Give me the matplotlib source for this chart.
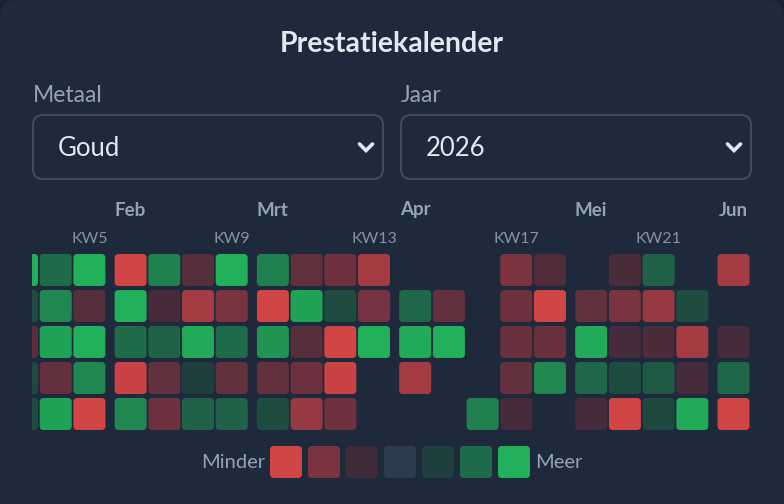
"""
Prestatiekalender - daily performance heatmap (weeks x weekdays) for gold, 2026
"""
import datetime
import matplotlib
matplotlib.use("Agg")
import matplotlib.pyplot as plt
from matplotlib.colors import LinearSegmentedColormap, Normalize
from matplotlib.patches import FancyBboxPatch

plt.rcParams['font.family'] = ['Lato', 'DejaVu Sans']

# ISO weeks visible in the scroll window, rows are Mon..Fri
year = 2026
weeks = list(range(3, 24))
weekdays = ['Ma', 'Di', 'Wo', 'Do', 'Vr']
month_names = ['Jan', 'Feb', 'Mrt', 'Apr', 'Mei', 'Jun']

# daily score per weekday, one entry per week (None = no data)
ma = [3.0, 2.0, 3.0, -3.0, 2.3, -1.4, 3.0, 2.3, -1.6, -1.8, -2.5,
      None, None, None, -2.0, -1.3, None, -1.2, 1.8, None, -2.5]
di = [1.3, 2.4, -1.4, 3.0, -1.1, -2.5, -2.0, -3.0, 2.8, 1.3, -1.9,
      1.9, -1.6, None, -1.8, -3.0, -1.6, -2.0, -2.3, 1.3, None]
wo = [-1.5, 2.8, 3.0, 2.0, 1.8, 2.9, 2.0, 2.6, -1.4, -3.0, 3.0,
      2.9, 3.0, None, -1.7, -1.7, 2.9, -1.1, -1.2, -2.5, -1.1]
do = [1.2, -1.6, 2.4, -2.9, -1.6, 1.0, -1.6, -1.6, -1.8, -2.9, None,
      -2.5, None, None, -1.6, 2.4, 1.9, 1.3, 1.6, -1.1, 1.9]
vr = [1.3, 2.8, -3.0, 2.4, -1.8, 1.8, 1.8, 1.3, -2.3, -1.8, None,
      None, None, 2.3, -1.1, None, -1.1, -3.0, 1.2, 2.9, -3.0]

# colour scale (Minder -> Meer)
legend_levels = [-3, -2, -1, 0, 1, 2, 3]
scale_colors = ['#d14545', '#7a3340', '#3f2a3a', '#2d3a4d',
                '#1e3f3d', '#1f6b4a', '#22b05a']

# selects
metal_label, metal_value = 'Metaal', 'Goud'
year_label = 'Jaar'

# --- styling -----------------------------------------------------------
BG = '#1e293b'
OUTER = '#182131'
TEXT = '#e2e8f0'
MUTED = '#94a3b8'
BORDER = '#3d4a5c'
CELL = 32
ROW_PITCH = 36
COL_PITCH = 33.7
MONTH_GAP = 7.5
X0 = 6
Y0 = 254

cmap = LinearSegmentedColormap.from_list('perf', scale_colors)
norm = Normalize(vmin=min(legend_levels), vmax=max(legend_levels))

fig = plt.figure(figsize=(7.84, 5.04), dpi=100, facecolor=OUTER)

# background / UI layer in pixel units
ui = fig.add_axes([0, 0, 1, 1])
ui.set_xlim(0, 784)
ui.set_ylim(504, 0)
ui.axis('off')
ui.add_patch(FancyBboxPatch((16, 16), 752, 520, boxstyle='round,pad=16',
                            fc=BG, ec='none'))

ui.text(392, 44, 'Prestatiekalender', ha='center', va='center',
        fontsize=20.5, fontweight='bold', color=TEXT)

for bx, label, value in [(33, metal_label, metal_value), (401, year_label, str(year))]:
    ui.text(bx, 95, label, ha='left', va='center', fontsize=16.5, color=MUTED)
    ui.add_patch(FancyBboxPatch((bx + 10, 125), 330, 44,
                                boxstyle='round,pad=10', fc=BG, ec=BORDER, lw=1.5))
    ui.text(bx + 25, 149, value, ha='left', va='center', fontsize=18.5, color=TEXT)
    cx = bx + 333
    ui.plot([cx - 6.5, cx, cx + 6.5], [144, 150.5, 144], color=TEXT, lw=2.6,
            solid_capstyle='round', solid_joinstyle='miter')

# legend
lx = 270
ui.text(lx - 5, 463, 'Minder', ha='right', va='center', fontsize=14.5, color=MUTED)
for k, lev in enumerate(legend_levels):
    x = lx + k * 38
    ui.add_patch(FancyBboxPatch((x + 4, 450), CELL - 8, CELL - 8,
                                boxstyle='round,pad=4', fc=cmap(norm(lev)), ec='none'))
ui.text(lx + 7 * 38 - 1, 463, 'Meer', ha='left', va='center', fontsize=14.5, color=MUTED)

# heatmap layer, clipped to the scroll window
hm = fig.add_axes([32 / 784, 1 - 436 / 504, 720 / 784, (436 - 195) / 504])
hm.set_xlim(32, 752)
hm.set_ylim(436, 195)
hm.axis('off')
hm.patch.set_alpha(0)

thursdays = [datetime.date.fromisocalendar(year, w, 4) for w in weeks]
first_month = thursdays[0].month
rows = [ma, di, wo, do, vr]

for i, (w, thu) in enumerate(zip(weeks, thursdays)):
    m = thu.month - first_month
    x = X0 + i * COL_PITCH + m * MONTH_GAP
    xc = x + CELL / 2
    if thu.day <= 7:
        hm.text(xc, 210, month_names[thu.month - 1], ha='center', va='center',
                fontsize=13.5, fontweight='bold', color=MUTED, clip_on=True)
    if w % 4 == 1:
        hm.text(xc, 239, f'KW{w}', ha='center', va='center',
                fontsize=11.5, color='#8593a8', clip_on=True)
    for r, series in enumerate(rows):
        v = series[i]
        if v is None:
            continue
        y = Y0 + r * ROW_PITCH
        hm.add_patch(FancyBboxPatch((x + 4, y + 4), CELL - 8, CELL - 8,
                                    boxstyle='round,pad=4', fc=cmap(norm(v)),
                                    ec='none'))

fig.savefig('out.png', dpi=100, facecolor=OUTER)
